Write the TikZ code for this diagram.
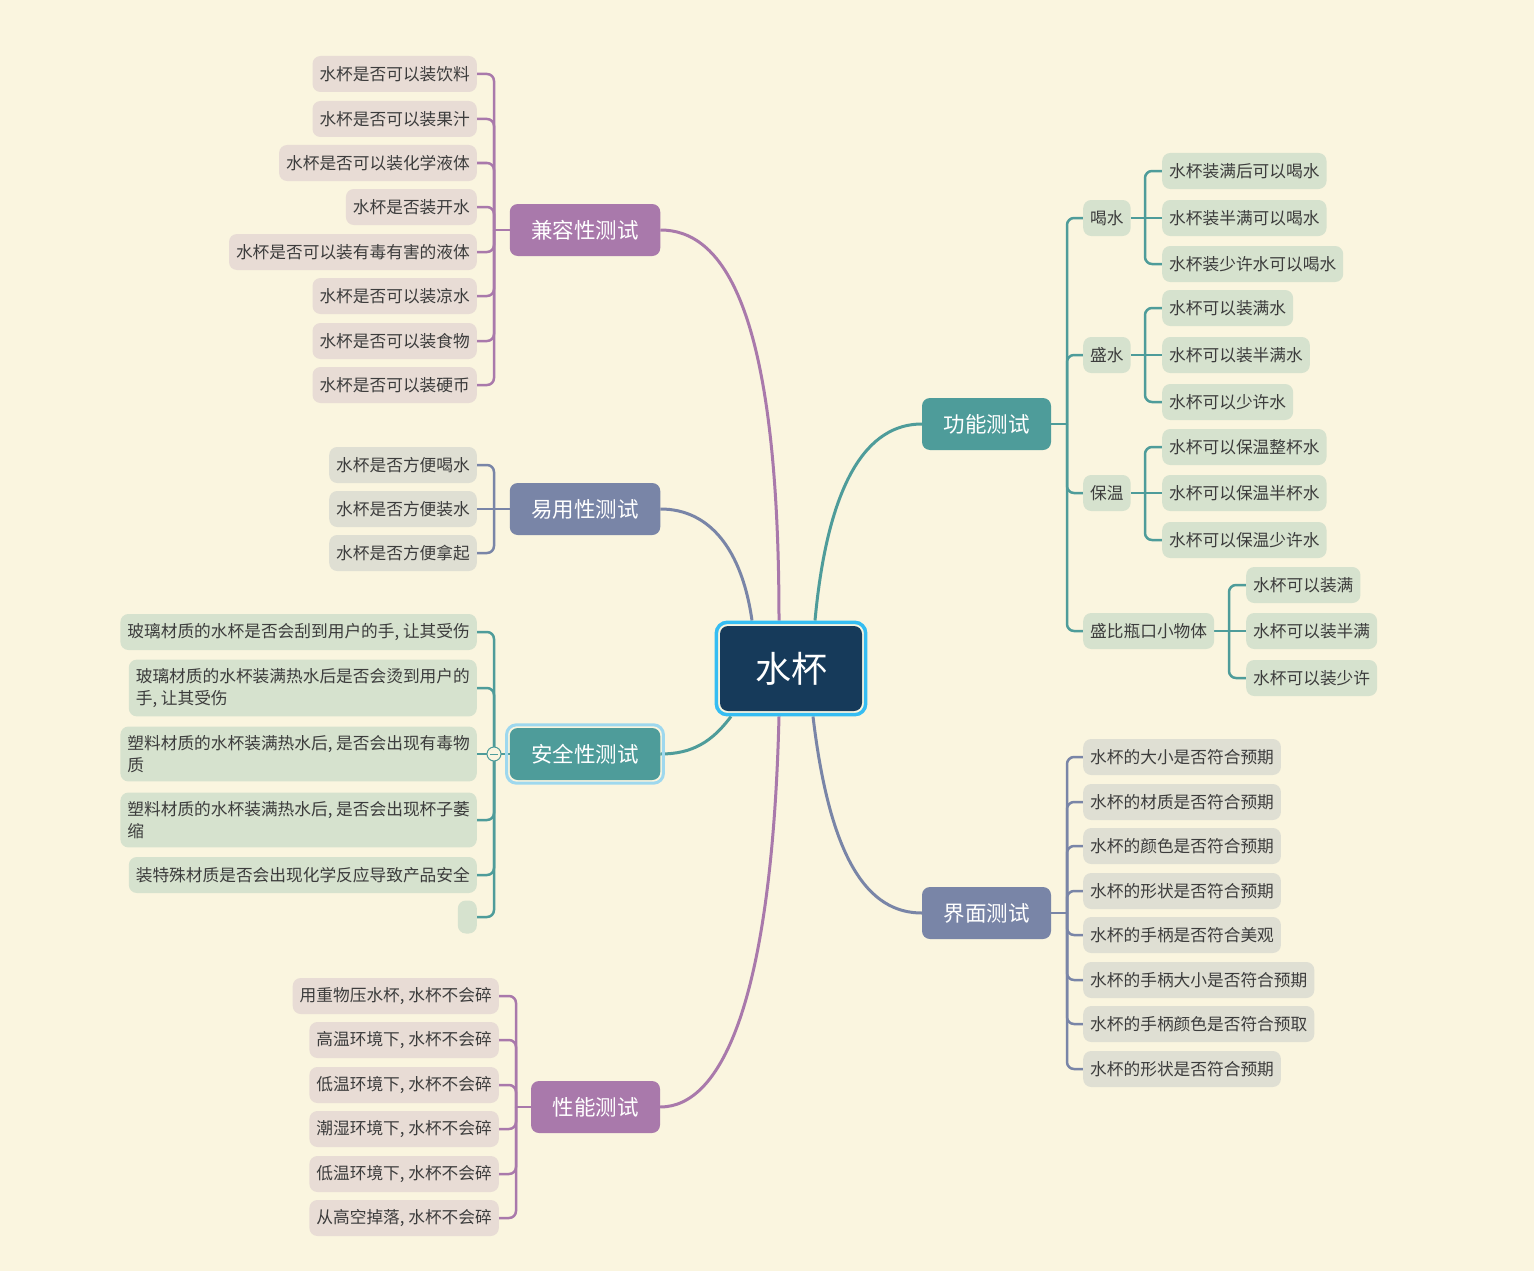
\documentclass[tikz,border=0pt]{standalone}
\usepackage{fontspec}
\newfontfamily\cjk{Noto Sans CJK SC}
\usetikzlibrary{fit}
\pgfdeclarelayer{back}
\pgfdeclarelayer{conn}
\pgfsetlayers{back,conn,main}
\definecolor{bgc}{HTML}{FAF5DF}
\definecolor{purp}{HTML}{A979AB}
\definecolor{bgrey}{HTML}{7985A7}
\definecolor{tealc}{HTML}{4E9C9A}
\definecolor{fillP}{HTML}{E8DCD5}
\definecolor{fillB}{HTML}{DFDFD3}
\definecolor{fillT}{HTML}{D6E2CE}
\definecolor{navy}{HTML}{163A5A}
\definecolor{cblue}{HTML}{35BDF2}
\definecolor{hlblue}{HTML}{9ED8EE}
\definecolor{txt}{HTML}{3C3C3C}
\begin{document}
\begin{tikzpicture}[x=1pt,y=-1pt,
  leaf/.style={rounded corners=8pt, inner xsep=7pt, inner ysep=9pt, minimum height=36pt,
    text=txt, font=\cjk\fontsize{16.7}{21.5}\selectfont, align=left},
  lp/.style={leaf, fill=fillP},
  lb/.style={leaf, fill=fillB},
  lt/.style={leaf, fill=fillT},
  branch/.style={rounded corners=8pt, minimum height=52pt, inner xsep=21.5pt, inner ysep=0pt,
    text=white, font=\cjk\fontsize{21.5}{26}\selectfont},
  conn/.style={line width=2.5pt, rounded corners=7pt},
  curve/.style={line width=3pt},
]
\begin{pgfonlayer}{back}
\fill[bgc] (0,0) rectangle (1534,1271);
\end{pgfonlayer}
\useasboundingbox (0,0) rectangle (1534,1271);

% root
\node[fill=navy, rounded corners=8pt, minimum width=142pt, minimum height=85pt, inner sep=0pt,
  text=white, font=\cjk\fontsize{36}{40}\selectfont] (root) at (791,668.5) {水杯};
\node[fit=(root), inner sep=3.5pt, draw=cblue, line width=3.5pt, rounded corners=11pt] (rootb) {};

% main branches
\node[branch, fill=purp] (jk) at (585,230) {兼容性测试};
\node[branch, fill=bgrey] (yy) at (585,509) {易用性测试};
\node[branch, fill=tealc] (aq) at (585,754) {安全性测试};
\node[fit=(aq), inner sep=3pt, draw=hlblue, line width=3pt, rounded corners=10pt] (aqhl) {};
\node[branch, fill=purp] (xn) at (595.5,1107) {性能测试};
\node[branch, fill=tealc] (gn) at (986.5,424) {功能测试};
\node[branch, fill=bgrey] (jm) at (986.5,913) {界面测试};

\begin{pgfonlayer}{conn}
\draw[curve, draw=purp] ([xshift=-12pt]rootb.north) .. controls (779,300) and (720,230) .. (jk.east);
\draw[curve, draw=bgrey] ([xshift=-39pt]rootb.north) .. controls (742,550) and (710,509) .. (yy.east);
\draw[curve, draw=tealc] ([xshift=24pt]rootb.north) .. controls (828,480) and (868,424) .. (gn.west);
\draw[curve, draw=tealc] ([xshift=-60pt]rootb.south) .. controls (712,742) and (692,754) .. (aq.east);
\draw[curve, draw=purp] ([xshift=-12pt]rootb.south) .. controls (772,1000) and (722,1107) .. (xn.east);
\draw[curve, draw=bgrey] ([xshift=22pt]rootb.south) .. controls (830,860) and (868,913) .. (jm.west);
\end{pgfonlayer}

% ---- 兼容性测试
\coordinate (jkj) at (494,230);
\begin{pgfonlayer}{conn}\draw[conn, draw=purp] (jk.west) -- (jkj);\end{pgfonlayer}
\foreach \y/\t [count=\i] in {74/水杯是否可以装饮料, 119/水杯是否可以装果汁, 163/水杯是否可以装化学液体,
  207/水杯是否装开水, 252/水杯是否可以装有毒有害的液体, 296/水杯是否可以装凉水,
  341/水杯是否可以装食物, 385/水杯是否可以装硬币}{
  \node[lp, anchor=east] (jk\i) at (477,\y) {\t};
  \begin{pgfonlayer}{conn}\draw[conn, draw=purp] (jkj) |- (jk\i.east);\end{pgfonlayer}
}

% ---- 易用性测试
\coordinate (yyj) at (494,509);
\node[lb, anchor=east] (yy1) at (477,465) {水杯是否方便喝水};
\node[lb, anchor=east] (yy2) at (477,509) {水杯是否方便装水};
\node[lb, anchor=east] (yy3) at (477,553) {水杯是否方便拿起};
\begin{pgfonlayer}{conn}
\draw[conn, draw=bgrey] (yy.west) -- (yy2.east);
\draw[conn, draw=bgrey] (yyj) |- (yy1.east);
\draw[conn, draw=bgrey] (yyj) |- (yy3.east);
\end{pgfonlayer}

% ---- 安全性测试
\coordinate (aqj) at (494,754);
\node[lt, anchor=east] (aq1) at (477,632) {玻璃材质的水杯是否会刮到用户的手, 让其受伤};
\node[lt, anchor=east] (aq2) at (477,688) {玻璃材质的水杯装满热水后是否会烫到用户的\\手, 让其受伤};
\node[lt, anchor=east] (aq3) at (477,754) {塑料材质的水杯装满热水后, 是否会出现有毒物\\质};
\node[lt, anchor=east] (aq4) at (477,820) {塑料材质的水杯装满热水后, 是否会出现杯子萎\\缩};
\node[lt, anchor=east] (aq5) at (477,875) {装特殊材质是否会出现化学反应导致产品安全};
\node[fill=fillT, rounded corners=8pt, minimum width=19pt, minimum height=33pt, inner sep=0pt, anchor=east] (aq6) at (477,917) {};
\begin{pgfonlayer}{conn}
\draw[conn, draw=tealc] (aq.west) -- (aq3.east);
\foreach \i in {1,2,4,5,6}{\draw[conn, draw=tealc] (aqj) |- (aq\i.east);}
\end{pgfonlayer}
\node[circle, draw=tealc, fill=bgc, line width=1pt, minimum size=14pt, inner sep=0pt] (aqc) at (aqj) {};
\draw[tealc, line width=1pt] ([xshift=-4pt]aqc.center) -- ([xshift=4pt]aqc.center);

% ---- 性能测试
\coordinate (xnj) at (516,1107);
\begin{pgfonlayer}{conn}\draw[conn, draw=purp] (xn.west) -- (xnj);\end{pgfonlayer}
\foreach \y/\t [count=\i] in {996/{用重物压水杯, 水杯不会碎}, 1040/{高温环境下, 水杯不会碎},
  1085/{低温环境下, 水杯不会碎}, 1129/{潮湿环境下, 水杯不会碎},
  1174/{低温环境下, 水杯不会碎}, 1218/{从高空掉落, 水杯不会碎}}{
  \node[lp, anchor=east] (xn\i) at (499,\y) {\t};
  \begin{pgfonlayer}{conn}\draw[conn, draw=purp] (xnj) |- (xn\i.east);\end{pgfonlayer}
}

% ---- 功能测试
\coordinate (gnj) at (1067,424);
\node[lt, anchor=west] (he) at (1083,218) {喝水};
\node[lt, anchor=west] (sh) at (1083,355) {盛水};
\node[lt, anchor=west] (bw) at (1083,493) {保温};
\node[lt, anchor=west] (sb) at (1083,631) {盛比瓶口小物体};
\begin{pgfonlayer}{conn}
\draw[conn, draw=tealc] (gn.east) -- (gnj);
\foreach \n in {he,sh,bw,sb}{\draw[conn, draw=tealc] (gnj) |- (\n.west);}
\end{pgfonlayer}

\coordinate (hej) at (1145,218);
\node[lt, anchor=west] (he1) at (1162,171) {水杯装满后可以喝水};
\node[lt, anchor=west] (he2) at (1162,218) {水杯装半满可以喝水};
\node[lt, anchor=west] (he3) at (1162,264) {水杯装少许水可以喝水};
\coordinate (shj) at (1145,355);
\node[lt, anchor=west] (sh1) at (1162,308) {水杯可以装满水};
\node[lt, anchor=west] (sh2) at (1162,355) {水杯可以装半满水};
\node[lt, anchor=west] (sh3) at (1162,402) {水杯可以少许水};
\coordinate (bwj) at (1145,493);
\node[lt, anchor=west] (bw1) at (1162,447) {水杯可以保温整杯水};
\node[lt, anchor=west] (bw2) at (1162,493) {水杯可以保温半杯水};
\node[lt, anchor=west] (bw3) at (1162,540) {水杯可以保温少许水};
\coordinate (sbj) at (1229,631);
\node[lt, anchor=west] (sb1) at (1246,585) {水杯可以装满};
\node[lt, anchor=west] (sb2) at (1246,631) {水杯可以装半满};
\node[lt, anchor=west] (sb3) at (1246,678) {水杯可以装少许};
\begin{pgfonlayer}{conn}
\foreach \n in {he,sh,bw,sb}{
  \draw[conn, draw=tealc] (\n.east) -- (\n2.west);
  \draw[conn, draw=tealc] (\n j) |- (\n1.west);
  \draw[conn, draw=tealc] (\n j) |- (\n3.west);
}
\end{pgfonlayer}

% ---- 界面测试
\coordinate (jmj) at (1067,913);
\begin{pgfonlayer}{conn}\draw[conn, draw=bgrey] (jm.east) -- (jmj);\end{pgfonlayer}
\foreach \y/\t [count=\i] in {757/水杯的大小是否符合预期, 802/水杯的材质是否符合预期,
  846/水杯的颜色是否符合预期, 891/水杯的形状是否符合预期, 935/水杯的手柄是否符合美观,
  980/水杯的手柄大小是否符合预期, 1024/水杯的手柄颜色是否符合预取, 1069/水杯的形状是否符合预期}{
  \node[lb, anchor=west] (jm\i) at (1083,\y) {\t};
  \begin{pgfonlayer}{conn}\draw[conn, draw=bgrey] (jmj) |- (jm\i.west);\end{pgfonlayer}
}
\end{tikzpicture}
\end{document}
